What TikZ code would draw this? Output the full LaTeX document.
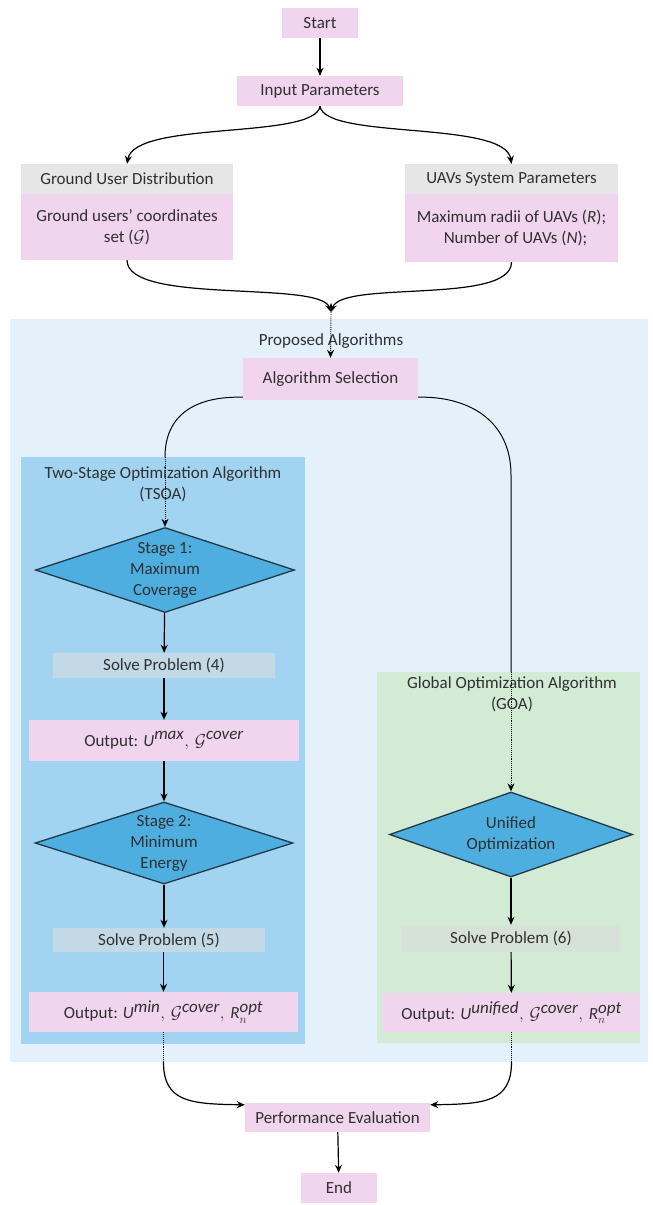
\documentclass[tikz,border=0pt]{standalone}
\usepackage{fontspec}
\setmainfont{Carlito}
\usetikzlibrary{shapes,arrows,arrows.meta}
\definecolor{boxpink}{HTML}{F1D5EF}
\definecolor{headgray}{HTML}{E6E6E6}
\definecolor{outerblue}{HTML}{E4F1FB}
\definecolor{tsoablue}{HTML}{A2D3F0}
\definecolor{goagreen}{HTML}{D3EAD5}
\definecolor{diamblue}{HTML}{4DAEDF}
\definecolor{diamline}{HTML}{1E3A48}
\definecolor{solvetsoa}{HTML}{C3D9E5}
\definecolor{solvegoa}{HTML}{D6E2D8}
\definecolor{txtgray}{HTML}{303030}
\tikzstyle{block} = [rectangle, fill=boxpink, text centered, align=center, inner sep=0pt]
\tikzstyle{header} = [rectangle, fill=headgray, text centered, inner sep=0pt]
\tikzstyle{solve} = [rectangle, text centered, inner sep=0pt]
\tikzstyle{decision} = [diamond, shape aspect=3, draw=diamline, line width=1.3pt, fill=diamblue, align=center, inner sep=0pt]
\tikzstyle{panel} = [rectangle, inner sep=0pt]
\tikzstyle{title} = [align=center, inner sep=0pt]
\tikzstyle{arrow} = [line width=1.2pt, ->, >={Stealth[length=8pt, width=7pt]}]
\tikzstyle{dotarrow} = [line width=0.9pt, densely dotted, ->, >={Stealth[length=8pt, width=7pt]}]
\tikzstyle{dotline} = [line width=0.9pt, densely dotted]

\begin{document}
\begin{tikzpicture}[x=1pt, y=-1pt, font=\fontsize{17}{21}\selectfont, text=txtgray]
    \useasboundingbox (0,0) rectangle (653,1205);
    % Panels
    \node [panel, fill=outerblue, minimum width=638pt, minimum height=743pt] (outer) at (329,690.5) {};
    \node [panel, fill=tsoablue, minimum width=284pt, minimum height=587pt] (tsoa) at (163,750.5) {};
    \node [panel, fill=goagreen, minimum width=263pt, minimum height=371pt] (goa) at (508.5,857.5) {};
    \node [title] (proptitle) at (331,341) {Proposed Algorithms};
    \node [title] (tsoatitle) at (163,484) {Two-Stage Optimization Algorithm\\(TSOA)};
    \node [title] (goatitle) at (512,694) {Global Optimization Algorithm\\(GOA)};

    % Place nodes
    \node [block, minimum width=76pt, minimum height=30pt] (start) at (320,23) {Start};
    \node [block, minimum width=166pt, minimum height=30pt] (input) at (320,91) {Input Parameters};
    \node [header, minimum width=212pt, minimum height=30pt] (groundhead) at (127,179) {Ground User Distribution};
    \node [block, minimum width=212pt, minimum height=66pt] (groundbox) at (127,227) {Ground users' coordinates\\set ($\mathcal{G}$)};
    \node [header, minimum width=213pt, minimum height=30pt] (uavhead) at (511.5,179) {UAVs System Parameters};
    \node [block, minimum width=213pt, minimum height=68pt] (uavbox) at (511.5,228) {Maximum radii of UAVs (\textit{R});\\\hspace*{8pt}Number of UAVs (\textit{N});};
    \coordinate (merge) at (331,312);
    \node [block, minimum width=175pt, minimum height=42pt] (algosel) at (330.5,379) {Algorithm Selection};

    % TSOA
    \coordinate (tsoain) at (165,457);
    \node [decision, minimum width=259pt, minimum height=85pt] (stage1) at (165,570) {Stage 1:\\Maximum\\Coverage};
    \node [solve, fill=solvetsoa, minimum width=222pt, minimum height=25pt] (solve4) at (164,665.5) {Solve Problem (4)};
    \node [block, minimum width=270pt, minimum height=41pt] (out1) at (164,740.5) {Output: $\textit{U}^{\textit{max}},\, \mathcal{G}^{\textit{cover}}$};
    \node [decision, minimum width=258pt, minimum height=82pt] (stage2) at (164,843) {Stage 2:\\Minimum\\Energy};
    \node [solve, fill=solvetsoa, minimum width=212pt, minimum height=24pt] (solve5) at (159,940) {Solve Problem (5)};
    \node [block, minimum width=269pt, minimum height=40pt] (out2) at (163.5,1012) {Output: $\textit{U}^{\textit{min}},\, \mathcal{G}^{\textit{cover}},\, \textit{R}_n^{\textit{opt}}$};
    \coordinate (tsoaout) at (163.5,1062);

    % GOA
    \coordinate (goain) at (511,672);
    \node [decision, shape aspect=2.86, minimum width=243pt, minimum height=85pt] (unified) at (511,834.5) {Unified\\Optimization};
    \node [solve, fill=solvegoa, minimum width=220pt, minimum height=27pt] (solve6) at (511,938.5) {Solve Problem (6)};
    \node [block, minimum width=257pt, minimum height=39pt] (out3) at (511.5,1012.5) {Output: $\textit{U}^{\textit{unified}},\, \mathcal{G}^{\textit{cover}},\, \textit{R}_n^{\textit{opt}}$};
    \coordinate (goaout) at (511.5,1062);

    \node [block, minimum width=185pt, minimum height=29pt] (perf) at (337.5,1117.5) {Performance Evaluation};
    \node [block, minimum width=76pt, minimum height=30pt] (end) at (339,1188) {End};

    \draw [arrow] (start) -- (input);
    \draw [arrow] (input.south) .. controls (315,140) and (135,120) .. (groundhead.north);
    \draw [arrow] (input.south) .. controls (325,140) and (505,120) .. (uavhead.north);
    \draw [arrow] (groundbox.south) .. controls (127,305) and (320,280) .. (merge);
    \draw [arrow] (uavbox.south) .. controls (511.5,305) and (342,280) .. (merge);
    \draw [dotarrow] (merge) -- (algosel.north);

    \draw [line width=1pt] ([yshift=3pt]algosel.south west) .. controls (195,396) and (165,415) .. (tsoain);
    \draw [dotarrow] (tsoain) -- (stage1.north);
    \draw [arrow] (stage1) -- (solve4);
    \draw [arrow] (solve4) -- (out1);
    \draw [arrow] (out1) -- (stage2);
    \draw [arrow] (stage2) -- (solve5.north -| stage2.south);
    \draw [arrow] (solve5.south -| out2.north) -- (out2);

    \draw [line width=1pt] ([yshift=3pt]algosel.south east) .. controls (468,396) and (511,420) .. (511,475) -- (goain);
    \draw [dotarrow] (goain) -- (unified.north);
    \draw [arrow] (unified) -- (solve6);
    \draw [arrow] (solve6) -- (out3);

    \draw [dotline] (out2.south) -- (tsoaout);
    \draw [dotline] (out3.south) -- (goaout);
    \draw [arrow] (tsoaout) .. controls (163.5,1102) and (190,1104) .. ([yshift=-2pt]perf.north west);
    \draw [arrow] (goaout) .. controls (511.5,1102) and (485,1104) .. ([yshift=-2pt]perf.north east);
    \draw [arrow] (perf) -- (end);
\end{tikzpicture}
\end{document}
